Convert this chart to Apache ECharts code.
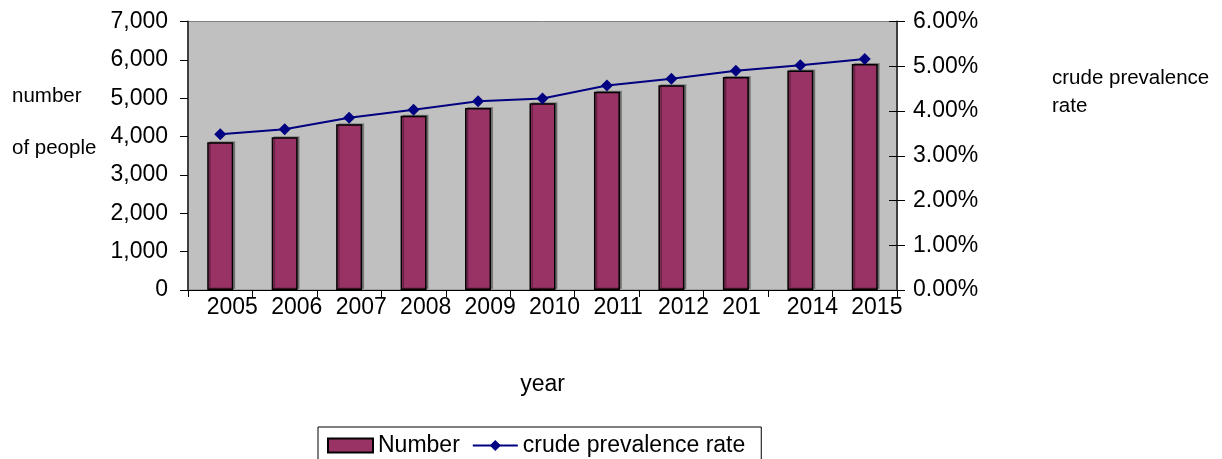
<!DOCTYPE html>
<html>
<head>
<meta charset="utf-8">
<title>Number and crude prevalence rate by year</title>
<script src="https://cdn.jsdelivr.net/npm/echarts@6/dist/echarts.min.js"></script>
<style>
  html, body { margin: 0; padding: 0; background: #ffffff; }
  #chart { width: 1222px; height: 459px; }
</style>
</head>
<body>
<div id="chart"></div>
<script>
// Year labels along the category axis
const yearLabels = ['2005', '2006', '2007', '2008', '2009', '2010', '2011', '2012', '201', '2014', '2015'];
// Number of people (left axis)
const numberValues = [3850, 3980, 4320, 4540, 4745, 4870, 5170, 5335, 5555, 5720, 5890];
// Crude prevalence rate in percent (right axis)
const rateValues = [3.48, 3.59, 3.85, 4.03, 4.22, 4.28, 4.57, 4.72, 4.90, 5.02, 5.16];

const FONT = "'Liberation Sans', Arial, sans-serif";
const PLOT = { left: 188, right: 325, top: 21.5, bottom: 169 };
const LABEL_SHIFT = 13.5; // year labels start a little left of each category centre

const chart = echarts.init(document.getElementById('chart'), null, { renderer: 'canvas' });

chart.setOption({
  animation: false,
  backgroundColor: '#ffffff',
  textStyle: { fontFamily: FONT, color: '#000000' },
  grid: [
    {
      left: PLOT.left, right: PLOT.right, top: PLOT.top, bottom: PLOT.bottom,
      show: true, backgroundColor: '#c0c0c0', borderColor: '#808080', borderWidth: 1
    },
    {
      left: PLOT.left - LABEL_SHIFT, right: PLOT.right + LABEL_SHIFT, top: PLOT.top, bottom: PLOT.bottom,
      show: false
    }
  ],
  legend: {
    left: 318, top: 427,
    padding: [7, 16, 16, 9],
    itemGap: 12,
    itemWidth: 45, itemHeight: 14,
    itemTextGap: 8,
    borderColor: '#000000', borderWidth: 1,
    backgroundColor: '#ffffff',
    textStyle: { fontFamily: FONT, fontSize: 23, color: '#000000' },
    data: [
      { name: 'Number', icon: 'rect' },
      { name: 'crude prevalence rate' }
    ]
  },
  xAxis: [
    {
      type: 'category', gridIndex: 0, data: yearLabels, boundaryGap: true,
      name: 'year', nameLocation: 'middle', nameGap: 95,
      nameTextStyle: { fontFamily: FONT, fontSize: 23, color: '#000000', verticalAlign: 'middle' },
      axisLine: { show: true, lineStyle: { color: '#000000', width: 1 } },
      axisTick: { show: true, inside: false, length: 7, alignWithLabel: false, lineStyle: { color: '#000000' } },
      axisLabel: { show: false },
      splitLine: { show: false }
    },
    {
      type: 'category', gridIndex: 1, data: yearLabels, boundaryGap: true,
      axisLine: { show: false }, axisTick: { show: false }, splitLine: { show: false },
      axisLabel: { show: true, align: 'left', margin: 6, fontFamily: FONT, fontSize: 23, color: '#000000', interval: 0 }
    }
  ],
  yAxis: [
    {
      type: 'value', gridIndex: 0, position: 'left',
      min: 0, max: 7000, interval: 1000,
      // two title lines, with an empty spacer line that lifts them above the axis middle
      name: '{t|number}\n{t|of people}\n{s| }',
      nameLocation: 'middle', nameRotate: 0, nameGap: 176,
      nameTextStyle: {
        fontFamily: FONT, fontSize: 20.5, color: '#000000',
        align: 'left', verticalAlign: 'middle',
        rich: {
          t: { fontFamily: FONT, fontSize: 20.5, color: '#000000', lineHeight: 52 },
          s: { fontSize: 10, lineHeight: 67.5 }
        }
      },
      axisLine: { show: true, lineStyle: { color: '#404040', width: 2 } },
      axisTick: { show: true, inside: false, length: 8, lineStyle: { color: '#000000' } },
      axisLabel: {
        margin: 20, fontFamily: FONT, fontSize: 23, color: '#000000',
        formatter: v => v.toLocaleString('en-US')
      },
      splitLine: { show: false }
    },
    {
      type: 'value', gridIndex: 0, position: 'right',
      min: 0, max: 6, interval: 1,
      name: '{t|crude prevalence}\n{t|rate}\n{s| }',
      nameLocation: 'middle', nameRotate: 0, nameGap: 155,
      nameTextStyle: {
        fontFamily: FONT, fontSize: 20.5, color: '#000000',
        align: 'left', verticalAlign: 'middle',
        rich: {
          t: { fontFamily: FONT, fontSize: 20.5, color: '#000000', lineHeight: 28 },
          s: { fontSize: 10, lineHeight: 127.5 }
        }
      },
      axisLine: { show: true, lineStyle: { color: '#404040', width: 2 } },
      axisTick: { show: true, inside: false, length: 8, lineStyle: { color: '#000000' } },
      axisLabel: {
        margin: 16, fontFamily: FONT, fontSize: 23, color: '#000000',
        formatter: v => v.toFixed(2) + '%'
      },
      splitLine: { show: false }
    },
    {
      // inner half of the right-hand tick marks
      type: 'value', gridIndex: 0, position: 'right',
      min: 0, max: 6, interval: 1,
      axisLine: { show: false },
      axisTick: { show: true, inside: true, length: 8, lineStyle: { color: '#000000' } },
      axisLabel: { show: false },
      splitLine: { show: false }
    },
    {
      type: 'value', gridIndex: 1, show: false
    }
  ],
  series: [
    {
      name: 'Number', type: 'bar', xAxisIndex: 0, yAxisIndex: 0,
      data: numberValues, barWidth: 26,
      itemStyle: {
        color: '#993366', borderColor: '#000000', borderWidth: 1.5,
        shadowColor: 'rgba(0,0,0,0.3)', shadowOffsetX: 2, shadowOffsetY: -1, shadowBlur: 0
      },
      z: 2
    },
    {
      name: 'crude prevalence rate', type: 'line', xAxisIndex: 0, yAxisIndex: 1,
      data: rateValues,
      symbol: 'diamond', symbolSize: 12,
      lineStyle: { color: '#000080', width: 2 },
      itemStyle: { color: '#000080' },
      z: 3
    }
  ]
});
</script>
</body>
</html>
